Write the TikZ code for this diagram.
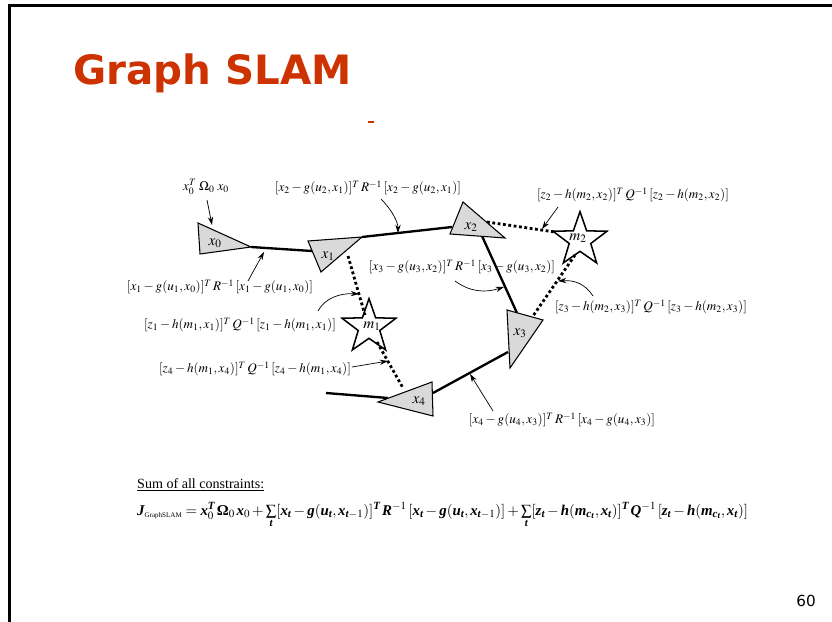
\documentclass[tikz,border=0pt]{standalone}
\usepackage{mathptmx}
\usepackage{fontspec}
\setmainfont{Liberation Serif}
\newfontfamily\slidefont{DejaVu Sans}
\newfontfamily\boldserif{Liberation Serif}[NFSSFamily=boldserif]
\DeclareMathAlphabet{\mathbi}{TU}{boldserif}{b}{it}
\newcommand\bi[1]{\mathbi{#1}}
\usetikzlibrary{shapes.geometric,arrows.meta}
\definecolor{slidered}{HTML}{CC3300}
\definecolor{posegray}{HTML}{D9D9D9}
\tikzset{
  pose/.style={draw=black, line width=0.9pt, fill=posegray, line join=miter},
  landmark/.style={star, star points=5, star point ratio=2.5, draw, line width=1.3pt,
    minimum size=1.7cm, inner sep=0pt},
  odo/.style={line width=2pt},
  obs/.style={line width=2.4pt, dash pattern=on 2.4pt off 2.2pt},
  cost/.style={font=\fontsize{11.2}{13}\selectfont},
  posename/.style={font=\fontsize{13}{15}\selectfont},
  pointer/.style={line width=0.6pt, -{Stealth[length=7pt,width=4.5pt]}},
}
\begin{document}
\begin{tikzpicture}[x=0.03cm, y=-0.03cm]
  \useasboundingbox (0,0) rectangle (832,622);
  % slide frame
  \draw[line width=2.4pt] (9.7,622) -- (9.7,5.5) -- (832,5.5);
  \node[anchor=base west, inner sep=0pt, text=slidered, font=\slidefont\bfseries\fontsize{34.5}{40}\selectfont]
    (title) at (73,85) {Graph SLAM};
  \draw[slidered, line width=1.2pt] (368,122) -- (374,122);

  % poses
  \coordinate (x0a) at (198,223); \coordinate (x0b) at (200,254); \coordinate (x0c) at (251,247);
  \coordinate (x1a) at (308,241); \coordinate (x1b) at (362,237); \coordinate (x1c) at (321,272);
  \coordinate (x2a) at (463,202); \coordinate (x2b) at (505,238); \coordinate (x2c) at (450,234);
  \coordinate (x3a) at (507,310); \coordinate (x3b) at (543,320); \coordinate (x3c) at (510,368);
  \coordinate (x4a) at (378,402); \coordinate (x4b) at (432,382); \coordinate (x4c) at (433,416);

  % motion edges
  \draw[odo] (x0c) -- (312,251);
  \draw[odo] (x1b) -- (452,227);
  \draw[odo] (482,236) -- (517,313);
  \draw[odo] (508,352) -- (433,393);
  \draw[odo] (326,393) -- (388,398);

  % measurement edges
  \draw[obs] (348,256) -- (365,315);
  \draw[obs] (377,342) -- (403,388);
  \draw[obs] (487,222) -- (555,232);
  \draw[obs] (575,255) -- (533,316);

  \foreach \p in {x0,x1,x2,x3,x4}
    \draw[pose] (\p a) -- (\p b) -- (\p c) -- cycle;
  \node[posename] (x0) at (215,243) {$x_0$};
  \node[posename] (x1) at (328,256) {$x_1$};
  \node[posename] (x2) at (471,227) {$x_2$};
  \node[posename] (x3) at (520,333) {$x_3$};
  \node[posename] (x4) at (419,401) {$x_4$};

  \node[landmark] (m1) at (369,327) {};
  \node[landmark] (m2) at (580,240) {};
  \node[posename] at (372,326) {$m_1$};
  \node[posename] at (578,238) {$m_2$};

  % cost terms
  \node[cost] (l1) at (206,187) {$x_0^T\;\Omega_0\;x_0$};
  \node[cost] (l2) at (368,188) {$[x_2-g(u_2,x_1)]^T\,R^{-1}\,[x_2-g(u_2,x_1)]$};
  \node[cost] (l3) at (633,195) {$[z_2-h(m_2,x_2)]^T\,Q^{-1}\,[z_2-h(m_2,x_2)]$};
  \node[cost] (l4) at (462,267) {$[x_3-g(u_3,x_2)]^T\,R^{-1}\,[x_3-g(u_3,x_2)]$};
  \node[cost] (l5) at (220,287) {$[x_1-g(u_1,x_0)]^T\,R^{-1}\,[x_1-g(u_1,x_0)]$};
  \node[cost] (l6) at (240,325) {$[z_1-h(m_1,x_1)]^T\,Q^{-1}\,[z_1-h(m_1,x_1)]$};
  \node[cost] (l7) at (651,307) {$[z_3-h(m_2,x_3)]^T\,Q^{-1}\,[z_3-h(m_2,x_3)]$};
  \node[cost] (l8) at (255,369) {$[z_4-h(m_1,x_4)]^T\,Q^{-1}\,[z_4-h(m_1,x_4)]$};
  \node[cost] (l9) at (562,420) {$[x_4-g(u_4,x_3)]^T\,R^{-1}\,[x_4-g(u_4,x_3)]$};

  \draw[pointer] (207,200) -- (212,225);
  \draw[pointer] (381,199) .. controls (392,210) and (398,222) .. (398,233);
  \draw[pointer] (558,207) -- (542,229);
  \draw[pointer] (455,281) .. controls (470,292) and (485,293) .. (504,287);
  \draw[pointer] (248,281) -- (264,252);
  \draw[pointer] (318,311) .. controls (325,298) and (340,293) .. (359,294);
  \draw[pointer] (593,296) .. controls (585,284) and (575,280) .. (558,281);
  \draw[pointer] (352,367) -- (388,361);
  \draw[pointer] (493,411) -- (470,374);

  % total cost
  \node[anchor=base west, inner sep=0pt, font=\fontsize{12}{14}\selectfont] (sum) at (137,488)
    {\underline{Sum of all constraints:}};
  \node[anchor=base west, font=\fontsize{12.7}{14}\selectfont, inner sep=0pt] (total) at (137,515)
    {$\bi{J}_{\mbox{\fontsize{6}{7}\selectfont GraphSLAM}}=\bi{x}_0^{\bi{T}}\,\mbox{\bfseries Ω}_0\,\bi{x}_0+\sum\limits_{\bi{t}}[\bi{x}_{\bi{t}}-\bi{g}(\bi{u}_{\bi{t}},\bi{x}_{\bi{t}-1})]^{\bi{T}}\,\bi{R}^{-1}\,[\bi{x}_{\bi{t}}-\bi{g}(\bi{u}_{\bi{t}},\bi{x}_{\bi{t}-1})]+\sum\limits_{\bi{t}}[\bi{z}_{\bi{t}}-\bi{h}(\bi{m}_{\bi{c}_{\bi{t}}},\bi{x}_{\bi{t}})]^{\bi{T}}\,\bi{Q}^{-1}\,[\bi{z}_{\bi{t}}-\bi{h}(\bi{m}_{\bi{c}_{\bi{t}}},\bi{x}_{\bi{t}})]$};

  \node[anchor=base east, font=\slidefont\fontsize{13}{15}\selectfont] (page) at (820,606) {60};
\end{tikzpicture}
\end{document}
